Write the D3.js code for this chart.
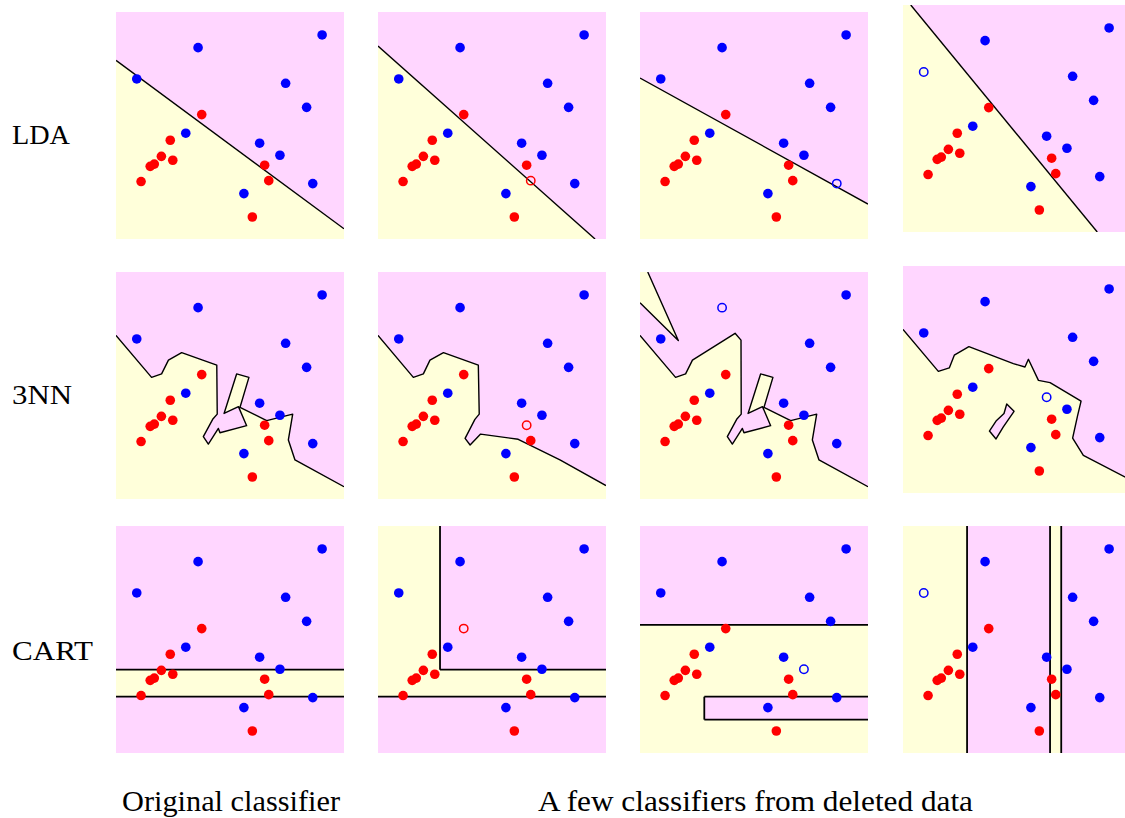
<!DOCTYPE html>
<html>
<head>
<meta charset="utf-8">
<script src="https://cdn.jsdelivr.net/npm/d3@7"></script>
<style>
  html, body { margin: 0; padding: 0; background: #fff; }
  svg { display: block; }
</style>
</head>
<body>
<svg id="chart" width="1125" height="818"></svg>
<script>
// Training points in the unit square (y pointing up)
const blueX = [0.360, 0.904, 0.091, 0.744, 0.836, 0.306, 0.630, 0.719, 0.863, 0.561];
const blueY = [0.843, 0.899, 0.705, 0.686, 0.580, 0.466, 0.422, 0.369, 0.244, 0.200];
const redX  = [0.376, 0.238, 0.199, 0.249, 0.168, 0.150, 0.110, 0.652, 0.670, 0.598];
const redY  = [0.548, 0.435, 0.364, 0.347, 0.330, 0.320, 0.253, 0.325, 0.257, 0.097];

const methods = ["LDA", "3NN", "CART"];
const columnTitles = ["Original classifier", "A few classifiers from deleted data"];

// Point removed before training each classifier (null: all points used)
const leftOut = [
  [null, ["red", 8], ["blue", 8], ["blue", 2]],
  [null, ["red", 7], ["blue", 0], ["blue", 6]],
  [null, ["red", 0], ["blue", 7], ["blue", 2]]
];

// LDA separating lines [x1, y1, x2, y2]
const ldaLines = [
  [0, 0.787, 1, 0.045],
  [0, 0.850, 0.952, 0],
  [0, 0.709, 1, 0.154],
  [0.034, 1, 0.852, 0]
];

// 3NN decision boundaries, left edge to right edge (red region below)
const nnTail = [[0.424, 0.351], [0.383, 0.275], [0.405, 0.242], [0.449, 0.311], [0.456, 0.292],
  [0.573, 0.323], [0.537, 0.407], [0.474, 0.377], [0.529, 0.551], [0.583, 0.536], [0.544, 0.404],
  [0.661, 0.345], [0.775, 0.374], [0.756, 0.260], [0.785, 0.172], [1, 0.054]];
const nnBoundary0 = [[0, 0.721], [0.156, 0.536], [0.200, 0.551], [0.230, 0.612], [0.288, 0.645],
  [0.442, 0.590], [0.444, 0.374]].concat(nnTail);
const nnBoundary1 = [[0, 0.721], [0.155, 0.536], [0.199, 0.551], [0.228, 0.612], [0.287, 0.645],
  [0.440, 0.590], [0.444, 0.374], [0.425, 0.351], [0.382, 0.267], [0.404, 0.238], [0.450, 0.286],
  [0.615, 0.263], [0.798, 0.172], [1, 0.059]];
const nnBoundary2 = [[0, 0.721], [0.156, 0.536], [0.200, 0.551], [0.230, 0.612], [0.417, 0.730],
  [0.443, 0.700], [0.444, 0.374]].concat(nnTail);
const nnBoundary3 = [[0, 0.721], [0.155, 0.536], [0.203, 0.551], [0.225, 0.607], [0.289, 0.645],
  [0.484, 0.570], [0.535, 0.555], [0.550, 0.589], [0.594, 0.496], [0.645, 0.486], [0.781, 0.405],
  [0.766, 0.342], [0.744, 0.242], [0.791, 0.166], [1, 0.057]];
const nnRedIslands = [[], [], [[[0, 1], [0.034, 1], [0.168, 0.698], [0, 0.865]]], []];
const nnBlueIslands = [[], [], [], [[[0.379, 0.273], [0.408, 0.238], [0.440, 0.291], [0.487, 0.360],
  [0.455, 0.392], [0.443, 0.350], [0.408, 0.317]]]];

// CART leaves [x0, y0, x1, y1]
const cartRed = [
  [[0, 0.248, 1, 0.367]],
  [[0, 0.248, 0.272, 1], [0.272, 0.248, 1, 0.367]],
  [[0, 0, 1, 0.564]],
  [[0, 0, 0.281, 1], [0.645, 0, 0.694, 1]]
];
const cartBlue = [[], [], [[0.282, 0.147, 1, 0.248]], []];
// CART split segments [x1, y1, x2, y2]
const cartSplits = [
  [[0, 0.367, 1, 0.367], [0, 0.248, 1, 0.248]],
  [[0.272, 1, 0.272, 0.367], [0.272, 0.367, 1, 0.367], [0, 0.248, 1, 0.248]],
  [[0, 0.564, 1, 0.564], [1, 0.147, 0.282, 0.147], [0.282, 0.147, 0.282, 0.248], [0.282, 0.248, 1, 0.248]],
  [[0.281, 0, 0.281, 1], [0.645, 0, 0.645, 1], [0.694, 0, 0.694, 1]]
];

// ---- layout ----
const panelW = 228, panelH = 227;
const colLeft = [116, 378, 640, 903];
const rowTop = [[12, 12, 12, 5], [272, 272, 272, 266], [526, 526, 526, 526]];
const pink = "#ffd6ff", cream = "#ffffda";
const blue = "#0000ff", red = "#ff0000";

const svg = d3.select("#chart");
const x = d3.scaleLinear().domain([0, 1]).range([0, panelW]);
const y = d3.scaleLinear().domain([0, 1]).range([panelH, 0]);
const path = d3.line().x(d => x(d[0])).y(d => y(d[1]));

const rectPoly = r => [[r[0], r[1]], [r[2], r[1]], [r[2], r[3]], [r[0], r[3]]];
const seg = s => [[s[0], s[1]], [s[2], s[3]]];

function ldaSpec(l) {
  const a = [l[0], l[1]], b = [l[2], l[3]];
  const side = p => (b[0] - a[0]) * (p[1] - a[1]) - (b[1] - a[1]) * (p[0] - a[0]);
  const corners = [[0, 0], [1, 0], [1, 1], [0, 1]].filter(c => side(c) < 0);
  return { red: [d3.polygonHull([a, b, ...corners])], blue: [], edges: [[a, b]], closed: [] };
}
function nnSpec(boundary, redIsl, blueIsl) {
  // island outlines skip the panel corner they are cut by
  const inside = q => !(q[0] === 0 && q[1] === 1);
  return {
    red: [boundary.concat([[1, 0], [0, 0]]), ...redIsl],
    blue: blueIsl,
    edges: [boundary, ...redIsl.map(p => p.filter(inside))],
    closed: blueIsl
  };
}
function cartSpec(reds, blues, splits) {
  return { red: reds.map(rectPoly), blue: blues.map(rectPoly), edges: splits.map(seg), closed: [] };
}

const specs = [
  ldaLines.map(ldaSpec),
  [nnBoundary0, nnBoundary1, nnBoundary2, nnBoundary3].map((b, i) => nnSpec(b, nnRedIslands[i], nnBlueIslands[i])),
  cartRed.map((r, i) => cartSpec(r, cartBlue[i], cartSplits[i]))
];

const points = blueX.map((v, i) => ({ cls: "blue", i, x: v, y: blueY[i] }))
  .concat(redX.map((v, i) => ({ cls: "red", i, x: v, y: redY[i] })));

const defs = svg.append("defs");
defs.append("clipPath").attr("id", "panel-clip")
  .append("rect").attr("width", panelW).attr("height", panelH);

specs.forEach((row, r) => {
  row.forEach((spec, c) => {
    const g = svg.append("g").attr("transform", `translate(${colLeft[c]},${rowTop[r][c]})`);
    const inner = g.append("g").attr("clip-path", "url(#panel-clip)");
    inner.append("rect").attr("width", panelW).attr("height", panelH).attr("fill", pink);
    inner.selectAll("path.red").data(spec.red).join("path").attr("class", "red")
      .attr("d", d => path(d) + "Z").attr("fill", cream);
    inner.selectAll("path.blue").data(spec.blue).join("path").attr("class", "blue")
      .attr("d", d => path(d) + "Z").attr("fill", pink);
    inner.selectAll("path.edge").data(spec.edges).join("path").attr("class", "edge")
      .attr("d", path).attr("fill", "none").attr("stroke", "#000")
      .attr("stroke-width", r === 2 ? 1.8 : 1.4).attr("stroke-linejoin", "round");
    inner.selectAll("path.loop").data(spec.closed).join("path").attr("class", "loop")
      .attr("d", d => path(d) + "Z").attr("fill", "none").attr("stroke", "#000")
      .attr("stroke-width", 1.4).attr("stroke-linejoin", "round");

    const out = leftOut[r][c];
    const isOut = p => out && p.cls === out[0] && p.i === out[1];
    inner.selectAll("circle.pt").data(points).join("circle").attr("class", "pt")
      .attr("cx", p => x(p.x)).attr("cy", p => y(p.y))
      .attr("r", p => isOut(p) ? 4.2 : 4.8)
      .attr("fill", p => isOut(p) ? "none" : (p.cls === "blue" ? blue : red))
      .attr("stroke", p => isOut(p) ? (p.cls === "blue" ? blue : red) : "none")
      .attr("stroke-width", 1.5);
  });
});

// Row labels
const labelY = [144, 404, 660];
const labelW = [58, 60, 81];
svg.selectAll("text.method").data(methods).join("text").attr("class", "method")
  .attr("x", 12).attr("y", (d, i) => labelY[i])
  .attr("textLength", (d, i) => labelW[i]).attr("lengthAdjust", "spacingAndGlyphs")
  .attr("font-family", "'Liberation Serif', 'Times New Roman', serif")
  .attr("font-size", 28).attr("fill", "#000").text(d => d);

// Column captions
const titleX = [122, 538], titleW = [218, 435];
svg.selectAll("text.caption").data(columnTitles).join("text").attr("class", "caption")
  .attr("x", (d, i) => titleX[i]).attr("y", 811)
  .attr("textLength", (d, i) => titleW[i]).attr("lengthAdjust", "spacingAndGlyphs")
  .attr("font-family", "'Liberation Serif', 'Times New Roman', serif")
  .attr("font-size", 28.5).attr("fill", "#000").text(d => d);
</script>
</body>
</html>
